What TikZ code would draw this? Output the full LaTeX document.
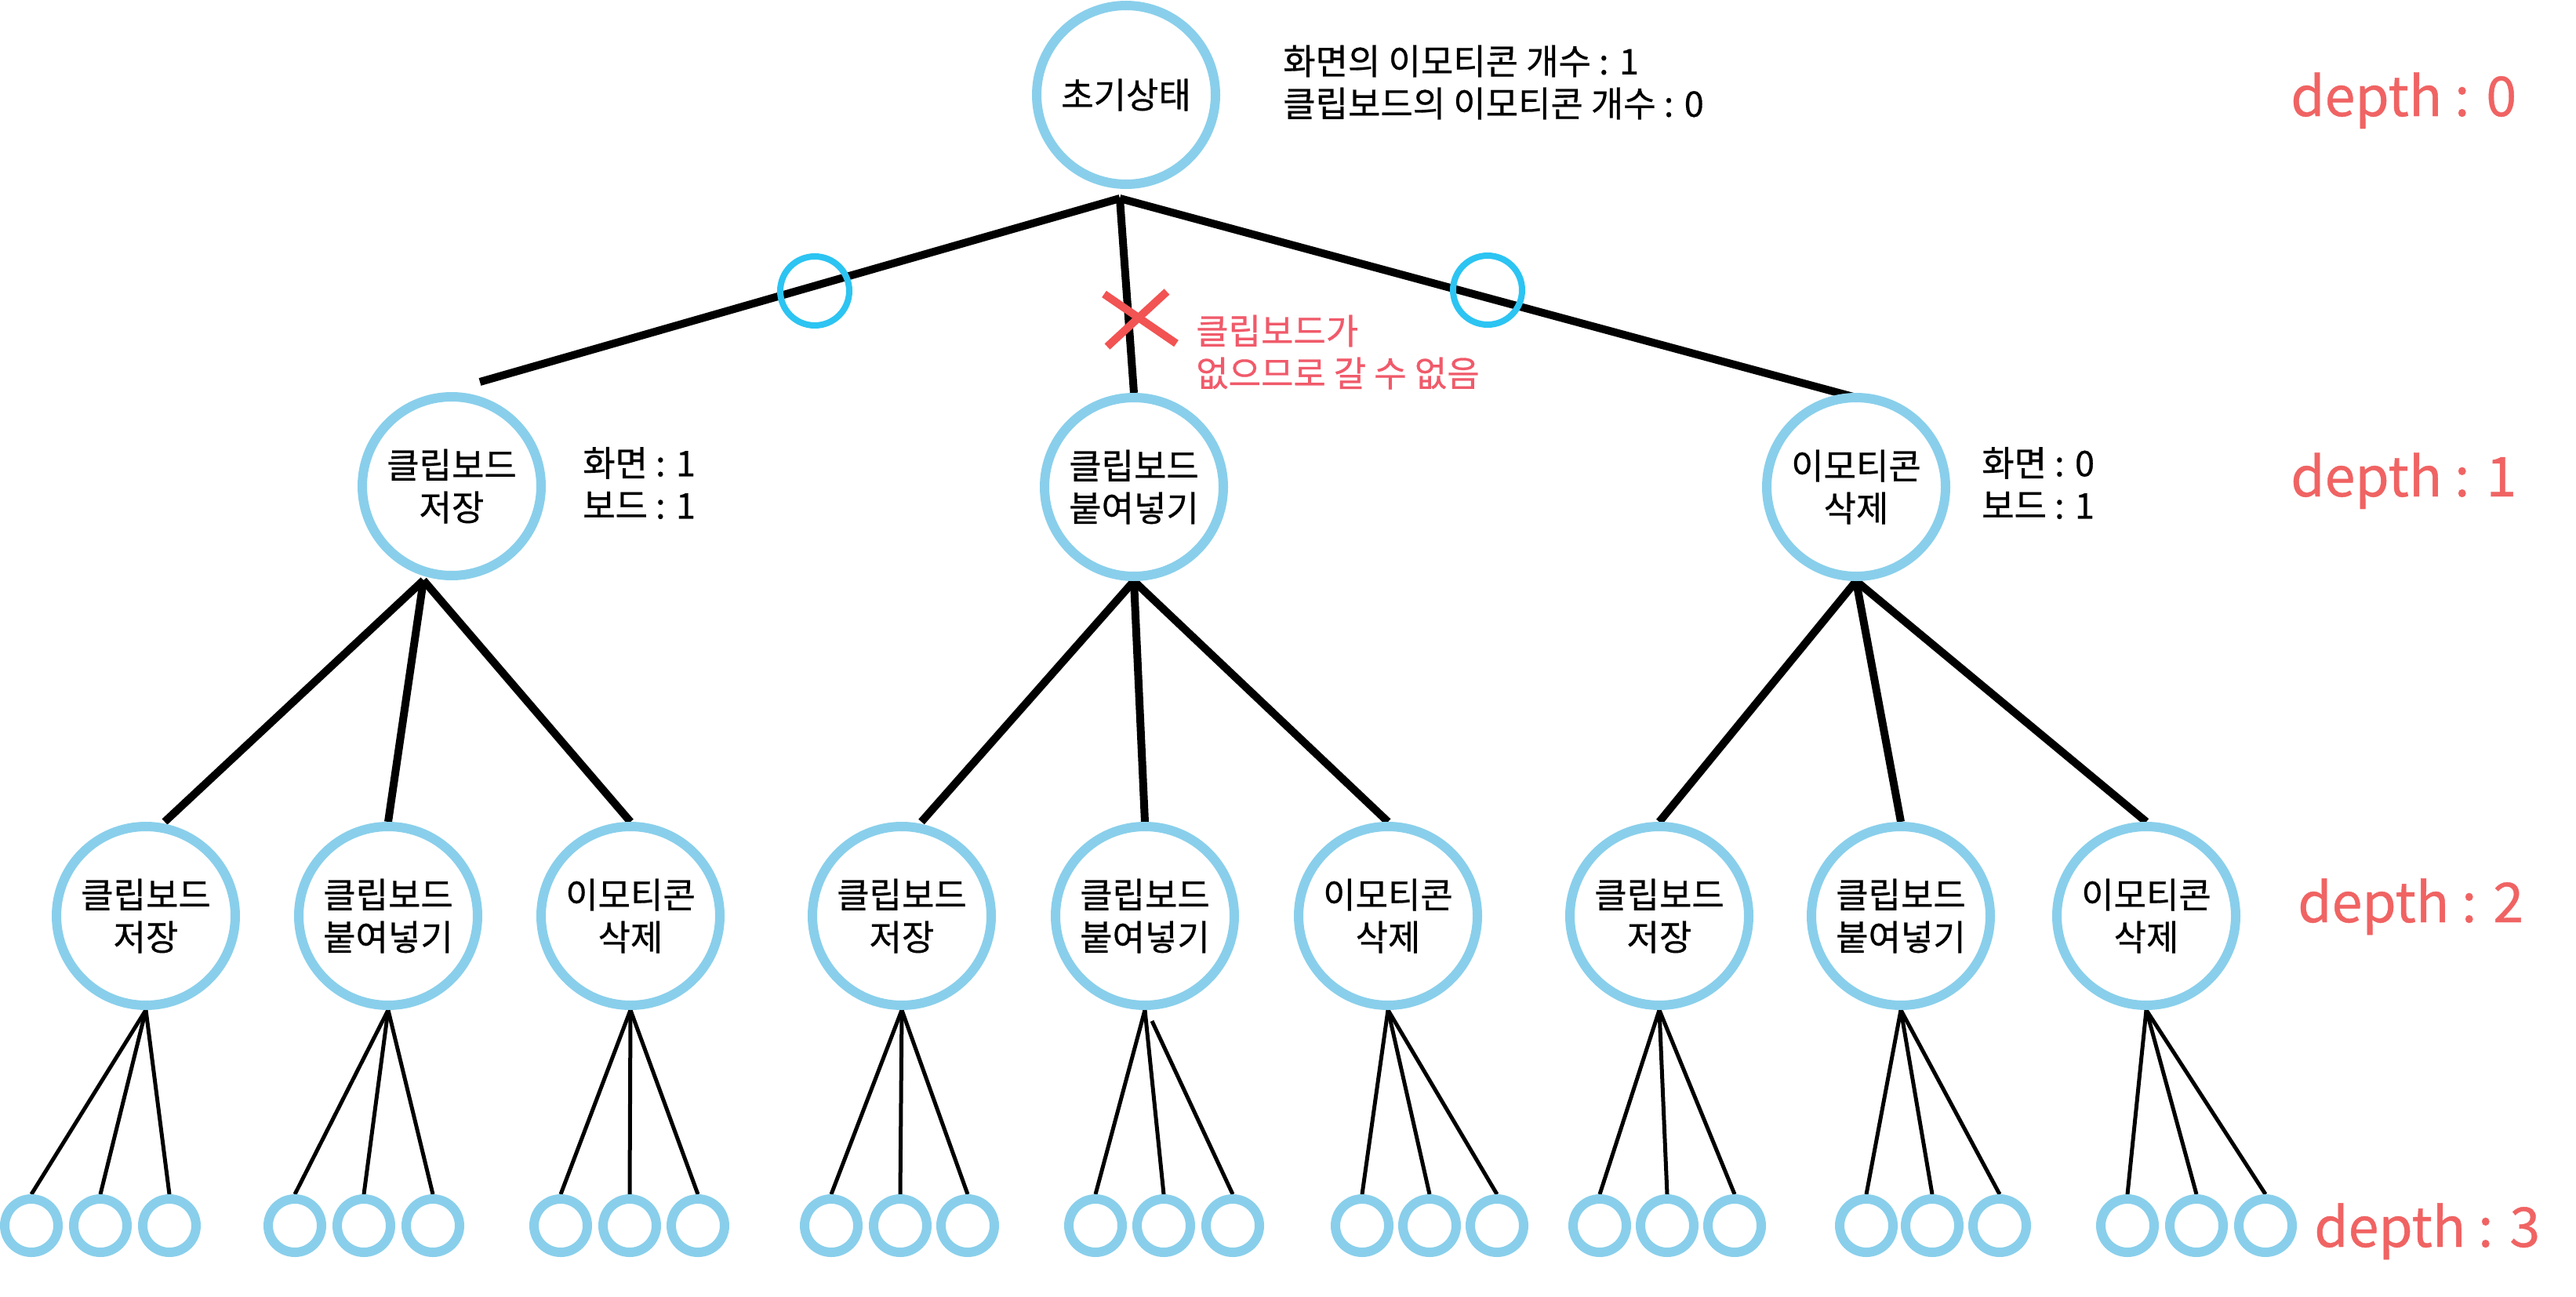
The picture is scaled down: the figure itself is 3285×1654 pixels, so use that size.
\documentclass[tikz,border=0pt]{standalone}
\usepackage{fontspec}
\setmainfont{Noto Sans CJK KR}[BoldFont={Noto Sans CJK KR},BoldFeatures={FakeBold=0.6}]
\usetikzlibrary{backgrounds}
\definecolor{circ}{HTML}{89CFEB}
\definecolor{okc}{HTML}{2CC4F2}
\definecolor{xred}{HTML}{F25353}
\definecolor{redtxt}{HTML}{F05A6A}
\definecolor{depc}{HTML}{F06363}
\begin{document}
\begin{tikzpicture}[x=1pt,y=-1pt,
  big/.style={circle,draw=circ,line width=12pt,fill=white,minimum size=228pt,inner sep=0pt,align=center,font=\fontsize{45}{54}\selectfont\bfseries},
  leaf/.style={circle,draw=circ,line width=12pt,fill=white,minimum size=68pt,inner sep=0pt},
  okmark/.style={circle,draw=okc,line width=8pt,minimum size=88pt,inner sep=0pt},
  tedge/.style={line width=10pt},
  nedge/.style={line width=5pt},
  xmark/.style={line width=10pt,draw=xred},
  info/.style={anchor=west,align=left,font=\fontsize{45}{54}\selectfont\bfseries,inner sep=0pt},
  deplab/.style={anchor=base west,text=depc,font=\fontsize{70}{84}\selectfont\bfseries,inner sep=0pt}]
\useasboundingbox (0,0) rectangle (3285,1654);

% nodes
\node[big] (root) at (1436,121) {초기상태};
\node[big] (n1a) at (576,620) {클립보드\\저장};
\node[big] (n1b) at (1446,621) {클립보드\\붙여넣기};
\node[big] (n1c) at (2367,621) {이모티콘\\삭제};

\node[big] (n2a) at (186,1168) {클립보드\\저장};
\node[big] (n2b) at (495,1168) {클립보드\\붙여넣기};
\node[big] (n2c) at (804,1168) {이모티콘\\삭제};
\node[big] (n2d) at (1150,1168) {클립보드\\저장};
\node[big] (n2e) at (1460,1168) {클립보드\\붙여넣기};
\node[big] (n2f) at (1770,1168) {이모티콘\\삭제};
\node[big] (n2g) at (2116,1168) {클립보드\\저장};
\node[big] (n2h) at (2424,1168) {클립보드\\붙여넣기};
\node[big] (n2i) at (2737,1168) {이모티콘\\삭제};

\foreach \g/\xa/\xb/\xc in {a/40/128/216, b/376/464/552, c/715/803/890,
  d/1060/1148/1234, e/1397/1484/1572, f/1737/1823/1909,
  g/2040/2126/2212, h/2380/2464/2550, i/2713/2801/2889}{
  \node[leaf] (l\g1) at (\xa,1563) {};
  \node[leaf] (l\g2) at (\xb,1563) {};
  \node[leaf] (l\g3) at (\xc,1563) {};
}

% junctions
\coordinate (rj) at (1428,253);
\coordinate (ja) at ([xshift=-36pt]n1a.south);
\coordinate (gx) at ([xshift=9pt,yshift=-14pt]n2e.south);

\begin{pgfonlayer}{background}
  \draw[tedge] (rj) -- ([xshift=36pt,yshift=13pt]n1a.north);
  \draw[tedge] (rj) -- (n1b.north);
  \draw[tedge] (rj) -- ([yshift=-6pt]n1c.north);

  \draw[tedge] (ja) -- ([xshift=24pt]n2a.north);
  \draw[tedge] (ja) -- (n2b.north);
  \draw[tedge] (ja) -- (n2c.north);
  \draw[tedge] (n1b.south) -- ([xshift=25pt]n2d.north);
  \draw[tedge] (n1b.south) -- (n2e.north);
  \draw[tedge] (n1b.south) -- (n2f.north);
  \draw[tedge] (n1c.south) -- (n2g.north);
  \draw[tedge] (n1c.south) -- (n2h.north);
  \draw[tedge] (n1c.south) -- (n2i.north);

  \foreach \g in {a,b,c,d,f,g,h,i}{
    \draw[nedge] (n2\g.south) -- (l\g1.north);
    \draw[nedge] (n2\g.south) -- (l\g2.north);
    \draw[nedge] (n2\g.south) -- (l\g3.north);
  }
  \draw[nedge] (n2e.south) -- (le1.north);
  \draw[nedge] (n2e.south) -- (le2.north);
  \draw[nedge] (gx) -- (le3.north);
\end{pgfonlayer}

% marks on the first edges
\node[okmark] (okl) at (1039,371) {};
\node[okmark] (okr) at (1897,370) {};
\draw[xmark] (1408,375) -- (1500,438);
\draw[xmark] (1488,372) -- (1412,442);

% texts
\node[info] (t0) at (1636,105) {화면의 이모티콘 개수 : 1\\클립보드의 이모티콘 개수 : 0};
\node[info,text=redtxt] (tx) at (1525,449) {클립보드가\\없으므로 갈 수 없음};
\node[info] (ta) at (743,616) {화면 : 1\\보드 : 1};
\node[info] (tc) at (2527,616) {화면 : 0\\보드 : 1};

\node[deplab] (d0) at (2921,148) {depth : 0};
\node[deplab] (d1) at (2921,633) {depth : 1};
\node[deplab] (d2) at (2930,1176) {depth : 2};
\node[deplab] (d3) at (2951,1590) {depth : 3};
\end{tikzpicture}
\end{document}
